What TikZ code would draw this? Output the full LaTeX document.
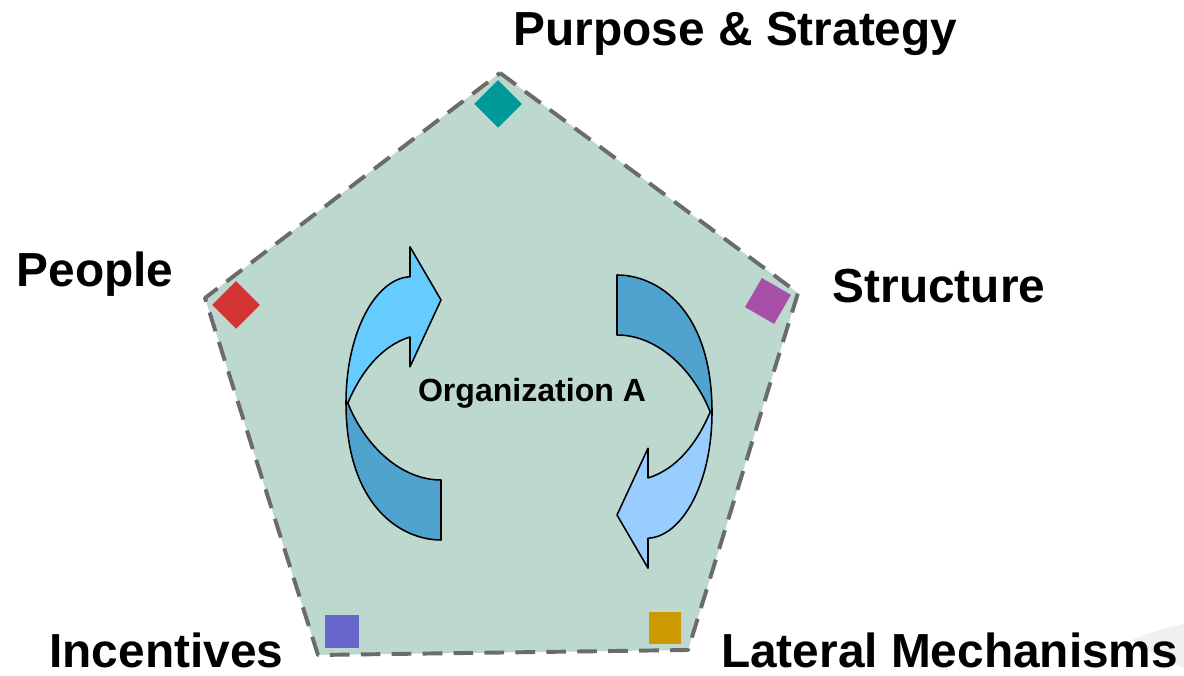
\documentclass[tikz,border=0pt]{standalone}
\usepackage{fontspec}
\setmainfont{Liberation Sans}
\usetikzlibrary{positioning}
\usepackage{xcolor}
\definecolor{pentafill}{HTML}{BDD9CF}
\definecolor{pentaedge}{HTML}{6B6B6B}
\definecolor{swirldark}{HTML}{4FA3CE}
\definecolor{swirlcyan}{HTML}{66CCFF}
\definecolor{swirlsky}{HTML}{99CCFF}
\definecolor{mkteal}{HTML}{009999}
\definecolor{mkred}{HTML}{D33333}
\definecolor{mkpurple}{HTML}{A84FA8}
\definecolor{mkblue}{HTML}{6666CC}
\definecolor{mkgold}{HTML}{CC9900}
\newcommand{\drawswirl}[5][]{% [options]{x}{y}{angle}{head colour}
  \begin{scope}[shift={(#2,#3)},rotate=#4,#1]
    % Back of the band (tail end)
    \filldraw[swirlline,fill=swirldark] (-2.375,0.175)
      .. controls (-2.375,-2.4) and (-1.0,-3.25) .. (0,-3.25)
      -- (0,-1.75)
      .. controls (-1.0,-1.75) and (-1.9,-0.9) .. (-2.33,0.175) -- cycle;
    % Front of the band with the head
    \filldraw[swirlline,fill=#5] (-2.375,0.175)
      .. controls (-2.375,2.0) and (-1.6,3.3) .. (-0.775,3.33)
      -- (-0.775,4.08) -- (0,2.75) -- (-0.775,1.08) -- (-0.775,1.825)
      .. controls (-1.5,1.6) and (-2.0,0.95) .. (-2.33,0.175) -- cycle;
  \end{scope}
}

\begin{document}
\begin{tikzpicture}[
    swirlline/.style={draw=black,line width=1.1pt,line join=round},
    marker/.style={minimum size=0.84cm,inner sep=0pt,outer sep=0pt},
    lbl/.style={font=\bfseries\fontsize{34}{40}\selectfont,anchor=base,inner sep=0pt},
  ]
  \useasboundingbox (0,0) rectangle (29.6,16.9);

  % Faint sweep in the lower right corner
  \fill[gray!12] (28.3,0.9) .. controls (28.9,1.15) and (29.3,1.25) .. (29.6,1.3)
    -- (29.6,0.2) .. controls (29.2,0.4) and (28.7,0.6) .. cycle;

  % Pentagon
  \coordinate (ptop) at (12.5,15.075);
  \coordinate (pright) at (19.95,9.575);
  \coordinate (pbr) at (17.2,0.65);
  \coordinate (pbl) at (7.95,0.525);
  \coordinate (pleft) at (5.125,9.45);
  \filldraw[fill=pentafill,draw=pentaedge,line width=2.8pt,
    dash pattern=on 14pt off 8pt,line join=round]
    (ptop) -- (pright) -- (pbr) -- (pbl) -- (pleft) -- cycle;

  % Corner markers
  \node[marker,fill=mkteal,rotate=45] (mpurpose) at (12.45,14.3) {};
  \node[marker,fill=mkred,rotate=45] (mpeople) at (5.9,9.275) {};
  \node[marker,fill=mkpurple,rotate=-30] (mstructure) at (19.2,9.375) {};
  \node[marker,fill=mkblue] (mincentives) at (8.55,1.1125) {};
  \node[marker,fill=mkgold,minimum size=0.8cm] (mlateral) at (16.625,1.2075) {};

  % Turning arrows
  \drawswirl{11.025}{6.65}{0}{swirlcyan}
  \drawswirl{15.425}{6.775}{180}{swirlsky}

  % Labels
  \node[font=\bfseries\fontsize{22.8}{27}\selectfont,anchor=base,inner sep=0pt]
    (org) at (13.3,6.85) {Organization A};
  \node[lbl] (purpose) at (18.39,15.75) {Purpose \& Strategy};
  \node[lbl] (people) at (2.375,9.73) {People};
  \node[lbl] (structure) at (23.475,9.33) {Structure};
  \node[lbl] (incentives) at (4.16,0.2) {Incentives};
  \node[lbl] (lateral) at (23.74,0.2) {Lateral Mechanisms};
\end{tikzpicture}
\end{document}
